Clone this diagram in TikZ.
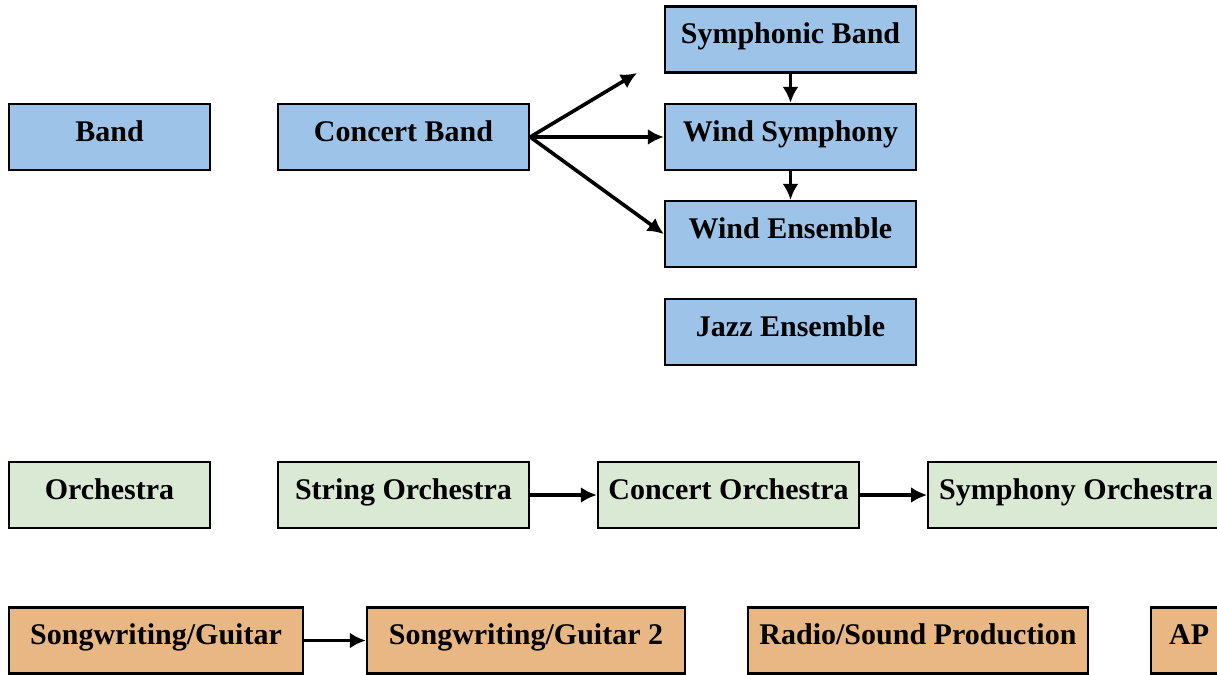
\documentclass[tikz,border=0pt]{standalone}
\usepackage{fontspec}
\setmainfont{Liberation Serif}
\usetikzlibrary{arrows.meta}

\definecolor{bandblue}{RGB}{157,195,233}
\definecolor{orchgreen}{RGB}{218,233,212}
\definecolor{guitartan}{RGB}{233,183,131}

\tikzset{
  course/.style = {draw = black, line width = 1.2pt, inner sep = 0pt,
    minimum height = 33pt, text height = 8pt, text depth = 4pt,
    font = \fontsize{15}{18}\selectfont\bfseries},
  bandbox/.style = {course, fill = bandblue},
  orchbox/.style = {course, fill = orchgreen},
  guitarbox/.style = {course, fill = guitartan},
  leadsto/.style = {draw = black, line width = 1.8pt,
    -{Latex[length = 8pt, width = 8pt]}}
}

\begin{document}
\begin{tikzpicture}[x = 0.5pt, y = -0.5pt]
    \clip (0, 0) rectangle (1217, 675);

    \node[bandbox, minimum width = 100.5pt] (band) at (109.5, 137) {Band};
    \node[bandbox, minimum width = 125.5pt] (concert) at (403.5, 137) {Concert Band};
    \node[bandbox, minimum width = 125.5pt] (symphonic) at (790.5, 39.5) {Symphonic Band};
    \node[bandbox, minimum width = 125.5pt] (windsym) at (790.5, 137) {Wind Symphony};
    \node[bandbox, minimum width = 125.5pt] (windens) at (790.5, 234) {Wind Ensemble};
    \node[bandbox, minimum width = 125.5pt] (jazz) at (790.5, 332) {Jazz Ensemble};

    \node[orchbox, minimum width = 100.5pt] (orchestra) at (109.5, 495) {Orchestra};
    \node[orchbox, minimum width = 125.5pt] (string) at (403.5, 495) {String Orchestra};
    \node[orchbox, minimum width = 130.5pt] (concorch) at (728.5, 495) {Concert Orchestra};
    \node[orchbox, inner xsep = 5.5pt, anchor = west] (symorch) at (927, 495)
      {Symphony Orchestra};

    \node[guitarbox, minimum width = 147pt] (guitar) at (156, 640.5) {Songwriting/Guitar};
    \node[guitarbox, minimum width = 159pt] (guitartwo) at (526, 640.5) {Songwriting/Guitar 2};
    \node[guitarbox, minimum width = 170pt] (radio) at (918, 640.5) {Radio/Sound Production};
    \node[guitarbox, inner xsep = 9pt, anchor = west] (ap) at (1150, 640.5) {AP};

    \coordinate (loose) at (637, 73);

    \draw[leadsto] (concert.east) -- (loose);
    \draw[leadsto] (concert.east) -- (windsym.west);
    \draw[leadsto] (concert.east) -- (windens.west);
    \draw[leadsto] (symphonic.south) -- (windsym.north);
    \draw[leadsto] (windsym.south) -- (windens.north);
    \draw[leadsto] (string.east) -- (concorch.west);
    \draw[leadsto] (concorch.east) -- (symorch.west);
    \draw[leadsto] (guitar.east) -- (guitartwo.west);
  \end{tikzpicture}
\end{document}
